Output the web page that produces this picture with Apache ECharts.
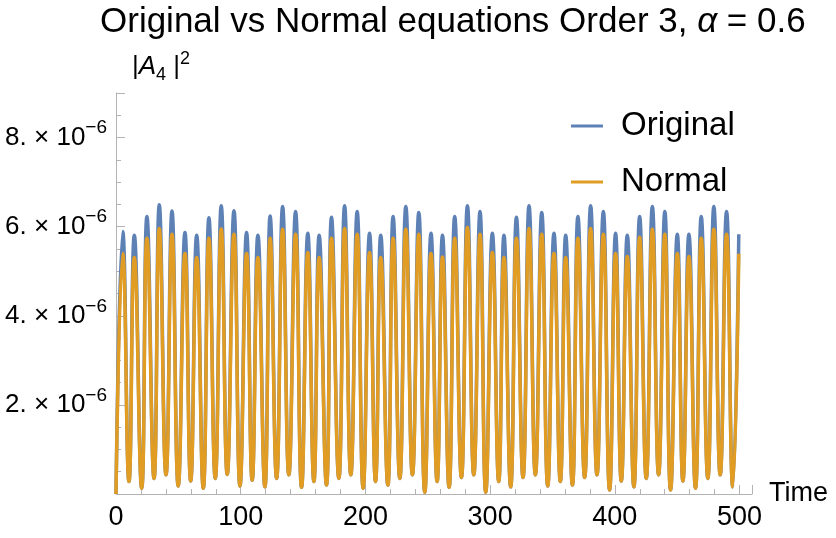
<!doctype html>
<html>
<head>
    <meta charset="UTF-8">
    <title>Original vs Normal equations</title>
    <script src="https://cdn.jsdelivr.net/npm/echarts@6/dist/echarts.min.js"></script>
    <style>
        html, body { margin: 0; padding: 0; background: #fff; }
        #main { width: 836px; height: 538px; }
    </style>
</head>
<body>
<div id="main"></div>
<script>
    // values, |A4|^2 in units of 1e-6
    var peakTimes = [5.4, 14.7, 24.8, 34.7, 44.9, 55.3, 64.7, 74.5, 84.4, 94.6,
        104.7, 113.8, 123.6, 133.6, 144.0, 153.8, 162.9, 172.8, 183.3, 193.4,
        203.3, 212.3, 222.2, 232.4, 242.8, 252.6, 261.8, 271.6, 281.8, 291.9,
        301.8, 311.1, 321.1, 331.2, 341.4, 351.2, 360.6, 370.4, 380.6, 390.8,
        400.6, 410.0, 419.9, 430.1, 440.1, 450.1, 459.4, 469.3, 479.4, 489.6, 499.4];
    var troughTimes = [10.4, 20.6, 30.5, 40.1, 49.9, 59.9, 70.0, 79.6, 89.2, 99.4,
        109.2, 119.4, 128.8, 138.6, 148.8, 158.7, 168.8, 178.7, 188.3, 198.2,
        208.1, 218.0, 227.6, 237.7, 247.6, 257.5, 267.1, 277.0, 286.9, 296.5,
        306.9, 316.5, 326.4, 336.3, 346.2, 356.3, 366.0, 375.8, 385.7, 395.8,
        405.2, 415.3, 425.2, 435.1, 444.7, 454.6, 464.7, 474.6, 484.5, 494.6];
    var originalPeaks = [5.89, 5.81, 6.23, 6.49, 6.35, 5.87, 5.81, 6.20, 6.47, 6.36,
        5.87, 5.81, 6.24, 6.45, 6.34, 5.85, 5.81, 6.21, 6.47, 6.34,
        5.85, 5.81, 6.23, 6.45, 6.32, 5.85, 5.81, 6.23, 6.47, 6.34,
        5.85, 5.81, 6.21, 6.47, 6.32, 5.85, 5.81, 6.23, 6.47, 6.34,
        5.85, 5.81, 6.23, 6.45, 6.34, 5.83, 5.83, 6.23, 6.45, 6.34, 5.83];
    var normalPeaks = [5.40, 5.31, 5.74, 5.96, 5.83, 5.40, 5.31, 5.74, 5.95, 5.83,
        5.40, 5.31, 5.74, 5.94, 5.83, 5.42, 5.31, 5.74, 5.96, 5.83,
        5.42, 5.31, 5.74, 5.94, 5.83, 5.40, 5.32, 5.74, 5.98, 5.83,
        5.42, 5.31, 5.74, 5.96, 5.83, 5.40, 5.31, 5.74, 5.96, 5.83,
        5.40, 5.33, 5.76, 5.94, 5.83, 5.40, 5.33, 5.74, 5.94, 5.83, 5.39];
    var troughValues = [0.28, 0.13, 0.35, 0.43, 0.18, 0.29, 0.13, 0.35, 0.44, 0.18,
        0.31, 0.16, 0.35, 0.43, 0.15, 0.28, 0.20, 0.35, 0.43, 0.13,
        0.28, 0.20, 0.35, 0.43, 0.04, 0.28, 0.15, 0.37, 0.43, 0.04,
        0.28, 0.16, 0.37, 0.43, 0.18, 0.28, 0.20, 0.37, 0.43, 0.09,
        0.29, 0.16, 0.35, 0.43, 0.09, 0.29, 0.13, 0.35, 0.43, 0.16];
    var xTicks = [0, 100, 200, 300, 400, 500];
    var yTicks = [2, 4, 6, 8];

    var blue = '#5e81b5';
    var orange = '#e19c24';
    var axisGrey = '#b3b3b3';
    var font = 'Liberation Sans, Arial, sans-serif';

    // peak, trough, peak, ... starting from (0, 0)
    function buildSeries(peaks) {
        var pts = [[0, 0]];
        for (var i = 0; i < peaks.length; i++) {
            pts.push([peakTimes[i], peaks[i]]);
            if (i < troughTimes.length) pts.push([troughTimes[i], troughValues[i]]);
        }
        return pts;
    }

    var chart = echarts.init(document.getElementById('main'));

    chart.setOption({
        animation: false,
        title: {
            text: '{t|Original vs Normal equations Order 3, }{a|α}{t| = 0.6}',
            left: 95,
            top: 0,
            textStyle: {
                fontWeight: 'normal',
                rich: {
                    t: { fontSize: 35, fontFamily: font, color: '#000', fontWeight: 'normal' },
                    a: { fontSize: 35, fontFamily: font, color: '#000', fontWeight: 'normal', fontStyle: 'italic' }
                }
            }
        },
        legend: {
            orient: 'vertical',
            left: 571,
            top: 108,
            padding: 0,
            icon: 'rect',
            itemWidth: 32,
            itemHeight: 3,
            itemGap: 20,
            textStyle: {
                fontSize: 33,
                fontFamily: font,
                color: '#000',
                lineHeight: 36,
                padding: [0, 0, 0, 13]
            },
            data: ['Original', 'Normal']
        },
        grid: {
            left: 116,
            right: 84,
            top: 93,
            bottom: 44,
            containLabel: false
        },
        xAxis: {
            type: 'value',
            min: 0,
            max: 510,
            interval: 100,
            name: 'Time',
            nameLocation: 'end',
            nameGap: 17,
            nameTextStyle: { fontSize: 27, fontFamily: font, color: '#000' },
            axisLine: { show: true, lineStyle: { color: axisGrey, width: 1 } },
            axisTick: { show: true, inside: true, length: 9, lineStyle: { color: axisGrey } },
            minorTick: { show: true, splitNumber: 5, length: 5, lineStyle: { color: axisGrey } },
            splitLine: { show: false },
            axisLabel: {
                fontSize: 27,
                fontFamily: font,
                color: '#000',
                margin: 10,
                showMaxLabel: false,
                formatter: function (v) {
                    return xTicks.indexOf(v) >= 0 ? String(v) : '';
                }
            }
        },
        yAxis: {
            type: 'value',
            min: 0,
            max: 9,
            interval: 2,
            name: '|{i|A}{sub|4} |{sup|2}',
            nameLocation: 'end',
            nameGap: 9,
            nameTextStyle: {
                align: 'left',
                fontSize: 26,
                fontFamily: font,
                color: '#000',
                lineHeight: 34,
                padding: [0, 0, 0, 16],
                rich: {
                    i: { fontSize: 26, fontFamily: font, fontStyle: 'italic', color: '#000', lineHeight: 34 },
                    sub: { fontSize: 18, fontFamily: font, color: '#000', lineHeight: 18, verticalAlign: 'bottom' },
                    sup: { fontSize: 18, fontFamily: font, color: '#000', lineHeight: 18, verticalAlign: 'top' }
                }
            },
            axisLine: { show: true, lineStyle: { color: axisGrey, width: 1 } },
            axisTick: { show: true, inside: true, length: 9, lineStyle: { color: axisGrey } },
            minorTick: { show: true, splitNumber: 4, length: 5, lineStyle: { color: axisGrey } },
            splitLine: { show: false },
            axisLabel: {
                margin: 9,
                formatter: function (v) {
                    if (yTicks.indexOf(v) < 0) return '';
                    return '{n|' + v + '. × 10}{sup|−6}';
                },
                rich: {
                    n: { fontSize: 26, fontFamily: font, color: '#000', lineHeight: 38 },
                    sup: { fontSize: 19, fontFamily: font, color: '#000', lineHeight: 19, verticalAlign: 'top' }
                }
            }
        },
        series: [
            {
                name: 'Original',
                type: 'line',
                data: buildSeries(originalPeaks),
                showSymbol: false,
                smooth: 0.5,
                color: blue,
                itemStyle: { color: blue },
                lineStyle: { color: blue, width: 3.5 }
            },
            {
                name: 'Normal',
                type: 'line',
                data: buildSeries(normalPeaks),
                showSymbol: false,
                smooth: 0.5,
                color: orange,
                itemStyle: { color: orange },
                lineStyle: { color: orange, width: 3.5 }
            }
        ]
    });
</script>
</body>
</html>
